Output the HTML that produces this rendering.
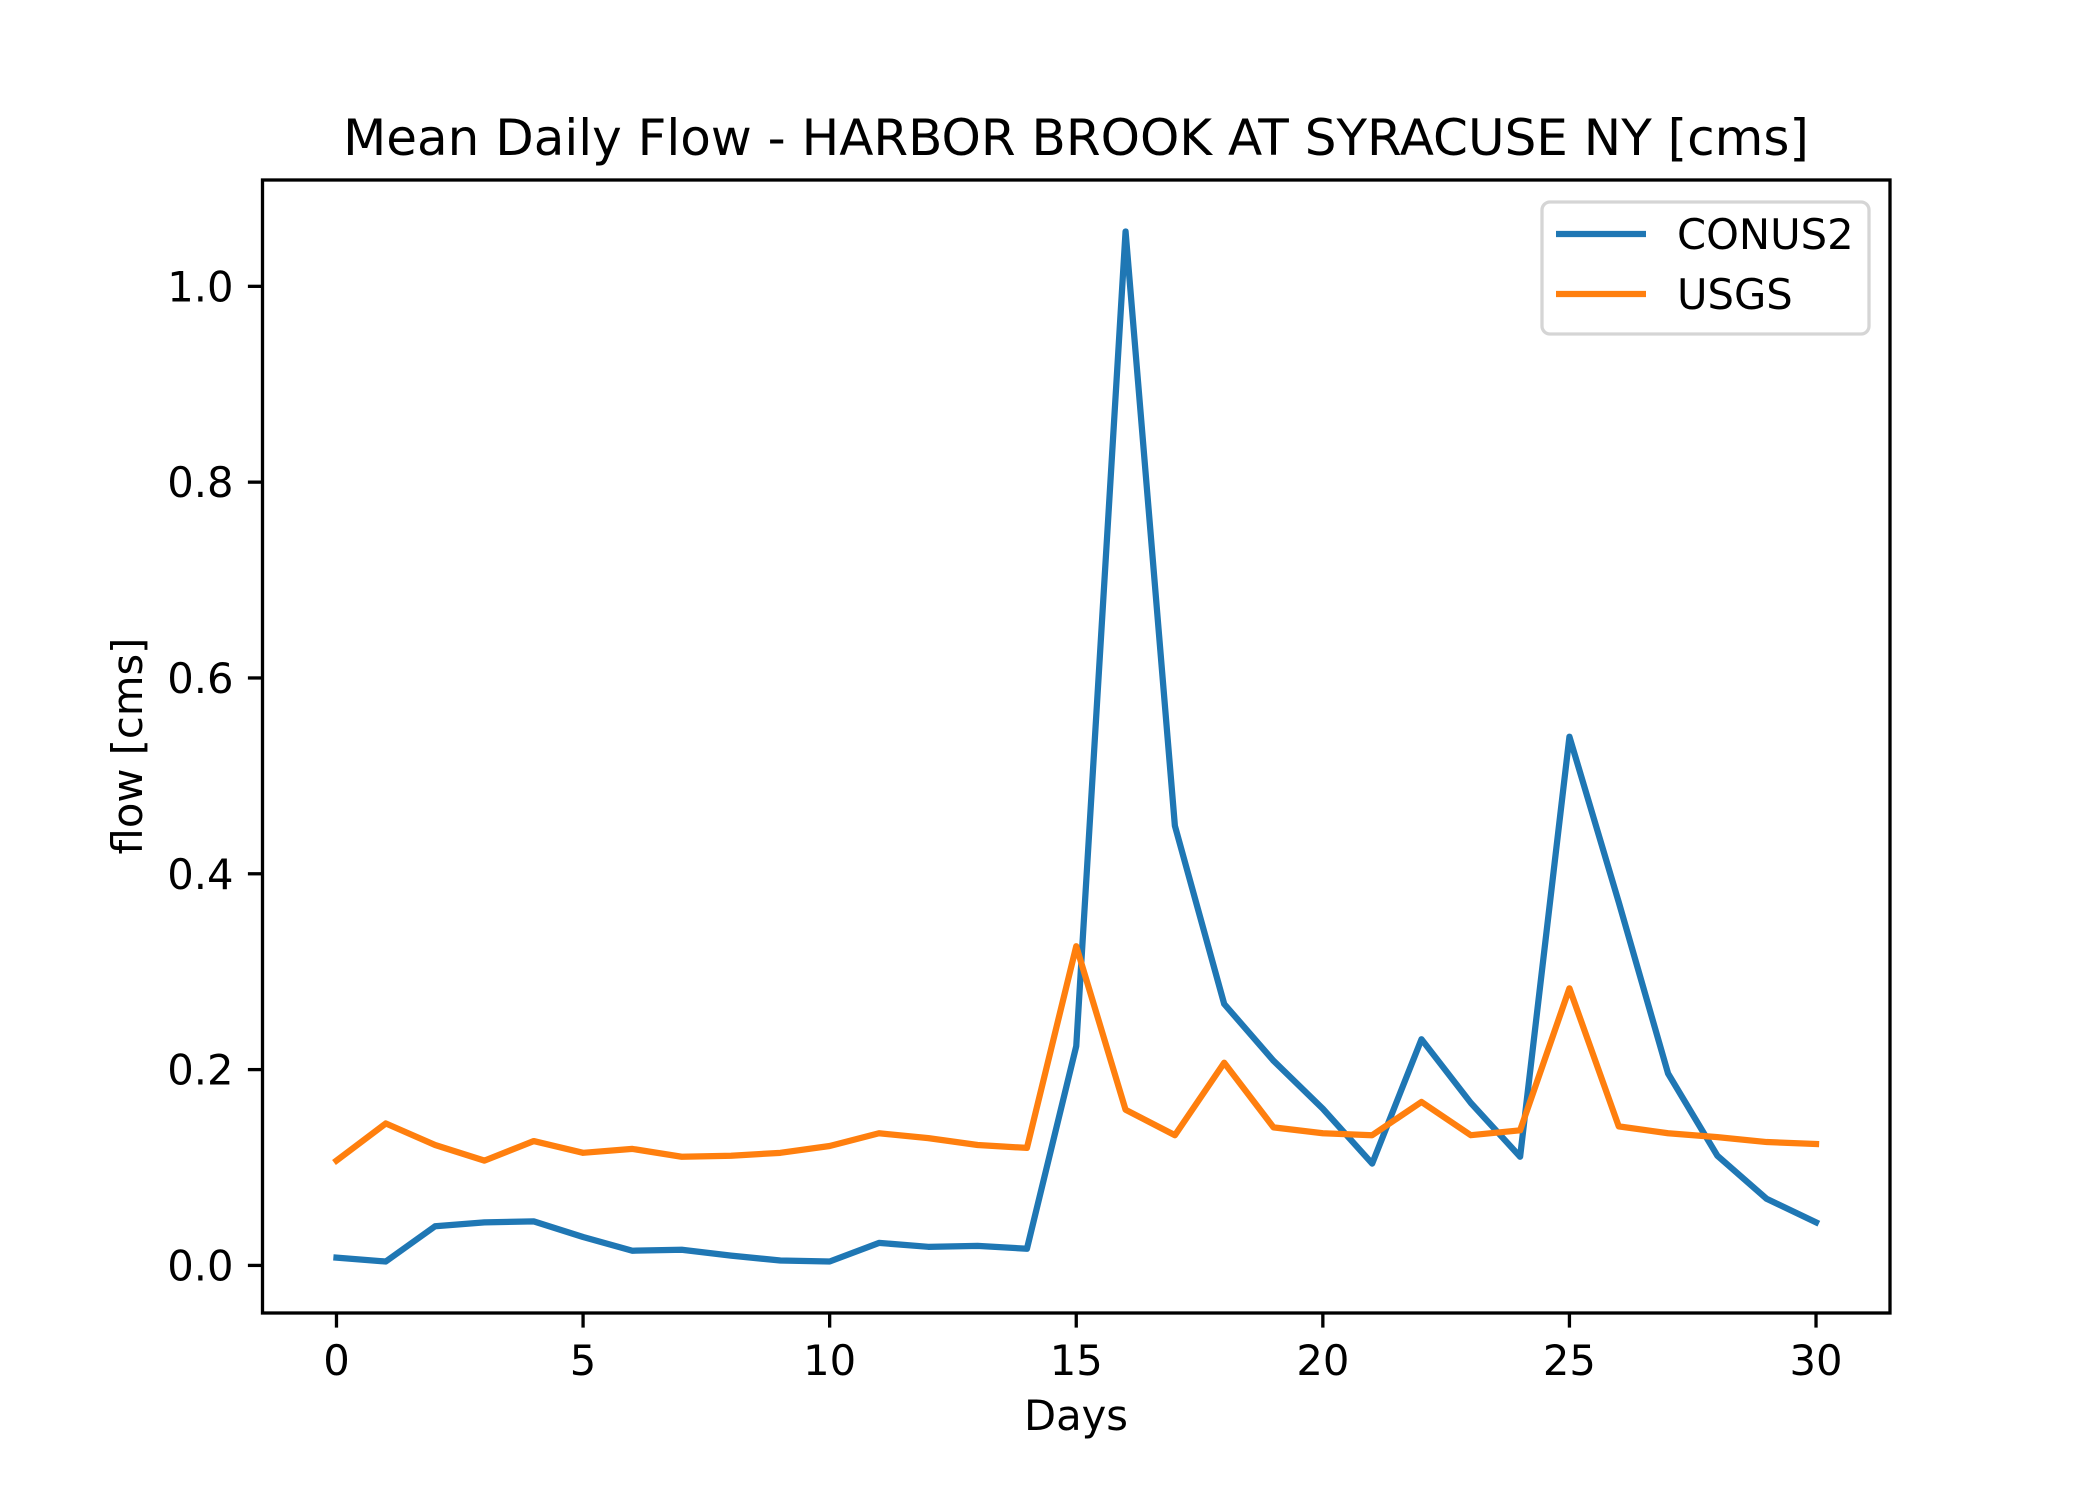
<!DOCTYPE html>
<html><head><meta charset="utf-8"><style>
html,body{margin:0;padding:0;background:#fff}
svg{display:block;font-family:"DejaVu Sans","Liberation Sans",sans-serif}
</style></head><body>
<svg id="chart" width="2100" height="1500" viewBox="0 0 2100 1500" xmlns="http://www.w3.org/2000/svg">
<rect width="2100" height="1500" fill="#fff"/>
<text x="1076" y="155" font-size="50" text-anchor="middle">Mean Daily Flow - HARBOR BROOK AT SYRACUSE NY [cms]</text>
<g id="plot"></g>
<text x="1076" y="1430" font-size="41.7" text-anchor="middle">Days</text>
<text transform="translate(142,746) rotate(-90)" font-size="41.7" text-anchor="middle">flow [cms]</text>
</svg>
<script>
const days = [0,1,2,3,4,5,6,7,8,9,10,11,12,13,14,15,16,17,18,19,20,21,22,23,24,25,26,27,28,29,30];
const conus2 = [0.008,0.004,0.040,0.044,0.045,0.029,0.015,0.016,0.010,0.005,0.004,0.023,0.019,0.020,0.017,0.224,1.056,0.449,0.267,0.209,0.160,0.104,0.231,0.166,0.111,0.540,0.371,0.196,0.112,0.068,0.044];
const usgs = [0.107,0.145,0.123,0.107,0.127,0.115,0.119,0.111,0.112,0.115,0.122,0.135,0.130,0.123,0.120,0.326,0.159,0.133,0.207,0.141,0.135,0.133,0.167,0.133,0.138,0.283,0.142,0.135,0.131,0.126,0.124];
const xTicks = [0,5,10,15,20,25,30];
const yTicks = [0.0,0.2,0.4,0.6,0.8,1.0];
const yTickLabels = ["0.0","0.2","0.4","0.6","0.8","1.0"];

const L=262.5,R=1890,T=180,B=1313;
const allV=conus2.concat(usgs);
const vmin=Math.min(...allV), vmax=Math.max(...allV), vr=vmax-vmin;
const y0=vmin-0.05*vr, y1=vmax+0.05*vr;
const dmin=Math.min(...days), dmax=Math.max(...days), dr=dmax-dmin;
const x0=dmin-0.05*dr, x1=dmax+0.05*dr;
const sx=v=>L+(v-x0)/(x1-x0)*(R-L);
const sy=v=>B-(v-y0)/(y1-y0)*(B-T);
const NS="http://www.w3.org/2000/svg";
const g=document.getElementById('plot');
function mk(tag,attrs){const e=document.createElementNS(NS,tag);for(const k in attrs)e.setAttribute(k,attrs[k]);g.appendChild(e);return e;}

xTicks.forEach(t=>{
  const l=mk('line',{x1:sx(t),x2:sx(t),y1:B,y2:B+14.6,stroke:'#000','stroke-width':3.3});
  
  
  const tx=mk('text',{x:sx(t),y:B+62,'font-size':41.7,'text-anchor':'middle'});
  tx.textContent=String(t);
  
  
});
yTicks.forEach((t,i)=>{
  const l=mk('line',{x1:L-14.6,x2:L,y1:sy(t),y2:sy(t),stroke:'#000','stroke-width':3.3});
  
  
  const tx=mk('text',{x:L-29,y:sy(t)+15,'font-size':41.7,'text-anchor':'end'});
  tx.textContent=yTickLabels[i];
  
  
});
function line(vals,color,name){
  const p=mk('polyline',{points:vals.map((v,i)=>sx(days[i])+','+sy(v)).join(' '),fill:'none',stroke:color,'stroke-width':6.25,'stroke-linejoin':'round','stroke-linecap':'square'});
  
  
}
line(conus2,'#1f77b4','conus2-line');
line(usgs,'#ff7f0e','usgs-line');
const frame=mk('rect',{x:L,y:T,width:R-L,height:B-T,fill:'none',stroke:'#000','stroke-width':3.3});



const lg=mk('rect',{x:1542,y:202,width:327,height:132,rx:8,fill:'#fff','fill-opacity':0.8,stroke:'#d5d5d5','stroke-width':3.3});


[['CONUS2','#1f77b4',234],['USGS','#ff7f0e',294]].forEach(([n,c,y])=>{
  const l=mk('line',{x1:1556,x2:1646,y1:y,y2:y,stroke:c,'stroke-width':6.25});
  
  
  const t=mk('text',{x:1677,y:y+15,'font-size':41.7});
  t.textContent=n;
  
  
});
</script>
</body></html>
